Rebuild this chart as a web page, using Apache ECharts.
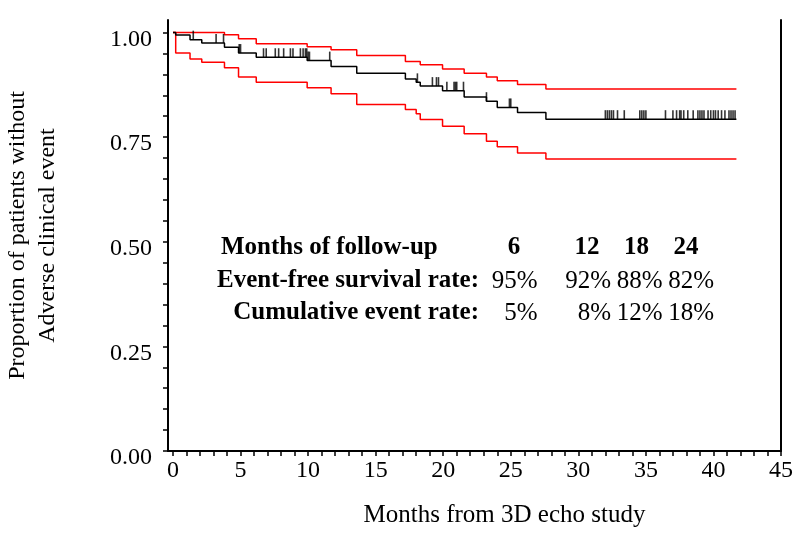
<!DOCTYPE html>
<html>
<head>
<meta charset="utf-8">
<script src="https://cdn.jsdelivr.net/npm/echarts@6/dist/echarts.min.js"></script>
<style>html,body{margin:0;padding:0;background:#fff}#c{width:800px;height:534px}</style>
</head>
<body>
<div id="c"></div>
<script>
// ---- data ----
var kmTimes = [0, 0.2, 1.26, 2.13, 3.81, 4.85, 6.16, 9.93, 11.7, 13.6, 17.2, 18.0, 18.3, 19.95, 21.55, 23.2, 24.0, 25.5, 27.6, 41.7];
var kmSurvival = [1.0, 0.994, 0.983, 0.975, 0.965, 0.951, 0.941, 0.933, 0.919, 0.903, 0.889, 0.881, 0.872, 0.861, 0.846, 0.836, 0.821, 0.809, 0.793, 0.793];
var kmLower = [1.0, 0.951, 0.937, 0.929, 0.916, 0.894, 0.881, 0.868, 0.854, 0.828, 0.816, 0.806, 0.792, 0.776, 0.758, 0.740, 0.727, 0.712, 0.698, 0.698];
var upperTimes = [0, 3.81, 4.85, 6.16, 9.93, 11.7, 13.6, 17.2, 18.3, 19.95, 21.55, 23.2, 24.0, 25.5, 27.6, 41.7];
var kmUpper = [1.0, 0.995, 0.985, 0.973, 0.966, 0.959, 0.945, 0.931, 0.923, 0.913, 0.903, 0.894, 0.885, 0.876, 0.865, 0.865];
var censorTimes = [1.5, 3.19, 3.74, 4.9, 5.0, 6.7, 6.9, 7.57, 7.82, 8.19, 8.69, 8.88, 9.43, 9.63, 9.8, 9.9, 10.0, 10.1, 11.6,
  18.09, 19.2, 19.5, 19.65, 20.27, 20.8, 20.9, 21.0, 21.5, 23.2, 24.9, 25.0,
  32.0, 32.15, 32.3, 32.45, 32.6, 32.9, 33.4, 34.55, 34.7, 34.85, 35.0, 36.45, 37.0, 37.27, 37.5, 37.6, 37.8, 38.1, 38.5,
  38.85, 39.0, 39.15, 39.3, 39.6, 39.8, 40.0, 40.15, 40.35, 40.6, 40.85, 41.15, 41.3, 41.45, 41.6];
var xTickLabels = [0, 5, 10, 15, 20, 25, 30, 35, 40, 45];
var yTickLabels = [0, 0.25, 0.5, 0.75, 1.0];
var tableMonths = [6, 12, 18, 24];
var tableSurvival = [95, 92, 88, 82];
var tableCumulative = [5, 8, 12, 18];
var tableRowLabels = ['Months of follow-up', 'Event-free survival rate:', 'Cumulative event rate:'];
var xTitle = 'Months from 3D echo study';
var yTitle = 'Proportion of patients without\nAdverse clinical event';

// ---- build ----
function zip(a, b) { return a.map(function (t, i) { return [t, b[i]]; }); }
function survAt(t) {
  var v = kmSurvival[0];
  for (var i = 0; i < kmTimes.length; i++) { if (kmTimes[i] <= t + 1e-9) v = kmSurvival[i]; }
  return v;
}
var xMinor = []; for (var i = 0; i <= 45; i++) xMinor.push(i);
var yMinor = []; for (var j = 0; j <= 20; j++) yMinor.push(j * 5 / 100);

var FONT = '"Liberation Serif", "Times New Roman", serif';
var chart = echarts.init(document.getElementById('c'), null, { renderer: 'canvas' });

var colCenters = [514, 587, 636.5, 686];
var colRights = [537.5, 611, 662.5, 714];
var rowY = [248, 281, 313];
var g = [];
g.push({ type: 'text', style: { x: 221, y: rowY[0], text: tableRowLabels[0], font: 'bold 25px ' + FONT, textAlign: 'left', textVerticalAlign: 'middle', fill: '#000' } });
g.push({ type: 'text', style: { x: 479, y: rowY[1], text: tableRowLabels[1], font: 'bold 25px ' + FONT, textAlign: 'right', textVerticalAlign: 'middle', fill: '#000' } });
g.push({ type: 'text', style: { x: 479, y: rowY[2], text: tableRowLabels[2], font: 'bold 25px ' + FONT, textAlign: 'right', textVerticalAlign: 'middle', fill: '#000' } });
tableMonths.forEach(function (m, k) {
  g.push({ type: 'text', style: { x: colCenters[k], y: rowY[0], text: String(m), font: 'bold 25px ' + FONT, textAlign: 'center', textVerticalAlign: 'middle', fill: '#000' } });
  g.push({ type: 'text', style: { x: colRights[k], y: rowY[1], text: tableSurvival[k] + '%', font: '25px ' + FONT, textAlign: 'right', textVerticalAlign: 'middle', fill: '#000' } });
  g.push({ type: 'text', style: { x: colRights[k], y: rowY[2], text: tableCumulative[k] + '%', font: '25px ' + FONT, textAlign: 'right', textVerticalAlign: 'middle', fill: '#000' } });
});

var axisLineStyle = { color: '#000', width: 2 };
var option = {
  animation: false,
  backgroundColor: '#fff',
  grid: { left: 168, right: 19, top: 20, bottom: 83, containLabel: false, outerBoundsMode: 'none' },
  xAxis: {
    type: 'value', min: -0.37, max: 45,
    name: xTitle, nameLocation: 'middle', nameGap: 52,
    nameTextStyle: { fontFamily: FONT, fontSize: 25, color: '#000', padding: [0, 0, 0, 60] },
    axisLine: { show: true, onZero: false, lineStyle: axisLineStyle },
    axisTick: { show: true, customValues: xMinor, length: 5, inside: false, lineStyle: { color: '#000', width: 1.5 } },
    axisLabel: { customValues: xTickLabels, fontFamily: FONT, fontSize: 24, color: '#000', margin: 8 },
    splitLine: { show: false }
  },
  yAxis: [{
    type: 'value', min: 0, max: 1.03, position: 'left',
    name: yTitle, nameLocation: 'middle', nameGap: 105, nameRotate: 90,
    nameTextStyle: { fontFamily: FONT, fontSize: 24, color: '#000', lineHeight: 30, align: 'center' },
    axisLine: { show: true, onZero: false, lineStyle: axisLineStyle },
    axisTick: { show: true, customValues: yMinor, length: 5, lineStyle: { color: '#000', width: 1.5 } },
    axisLabel: { customValues: yTickLabels, fontFamily: FONT, fontSize: 24, color: '#000', margin: 16,
      verticalAlign: 'top', lineHeight: 14,
      formatter: function (v) { return v.toFixed(2); } },
    splitLine: { show: false }
  }, {
    type: 'value', min: 0, max: 1.03, position: 'right',
    axisLine: { show: true, onZero: false, lineStyle: axisLineStyle },
    axisTick: { show: false }, axisLabel: { show: false }, splitLine: { show: false }
  }],
  series: [
    { type: 'line', step: 'end', data: zip(upperTimes, kmUpper), symbol: 'none', lineStyle: { color: '#ff0000', width: 1.5 }, z: 2 },
    { type: 'line', step: 'end', data: zip(kmTimes, kmLower), symbol: 'none', lineStyle: { color: '#ff0000', width: 1.5 }, z: 2 },
    { type: 'line', step: 'end', data: zip(kmTimes, kmSurvival), symbol: 'none', lineStyle: { color: '#000', width: 1.5 }, z: 3 },
    { type: 'scatter', data: censorTimes.map(function (t) { return [t, survAt(t)]; }),
      symbol: 'rect', symbolSize: [1.6, 9], symbolOffset: [0, '-50%'], itemStyle: { color: '#000' }, z: 4 }
  ],
  graphic: g
};
chart.setOption(option);
</script>
</body>
</html>
